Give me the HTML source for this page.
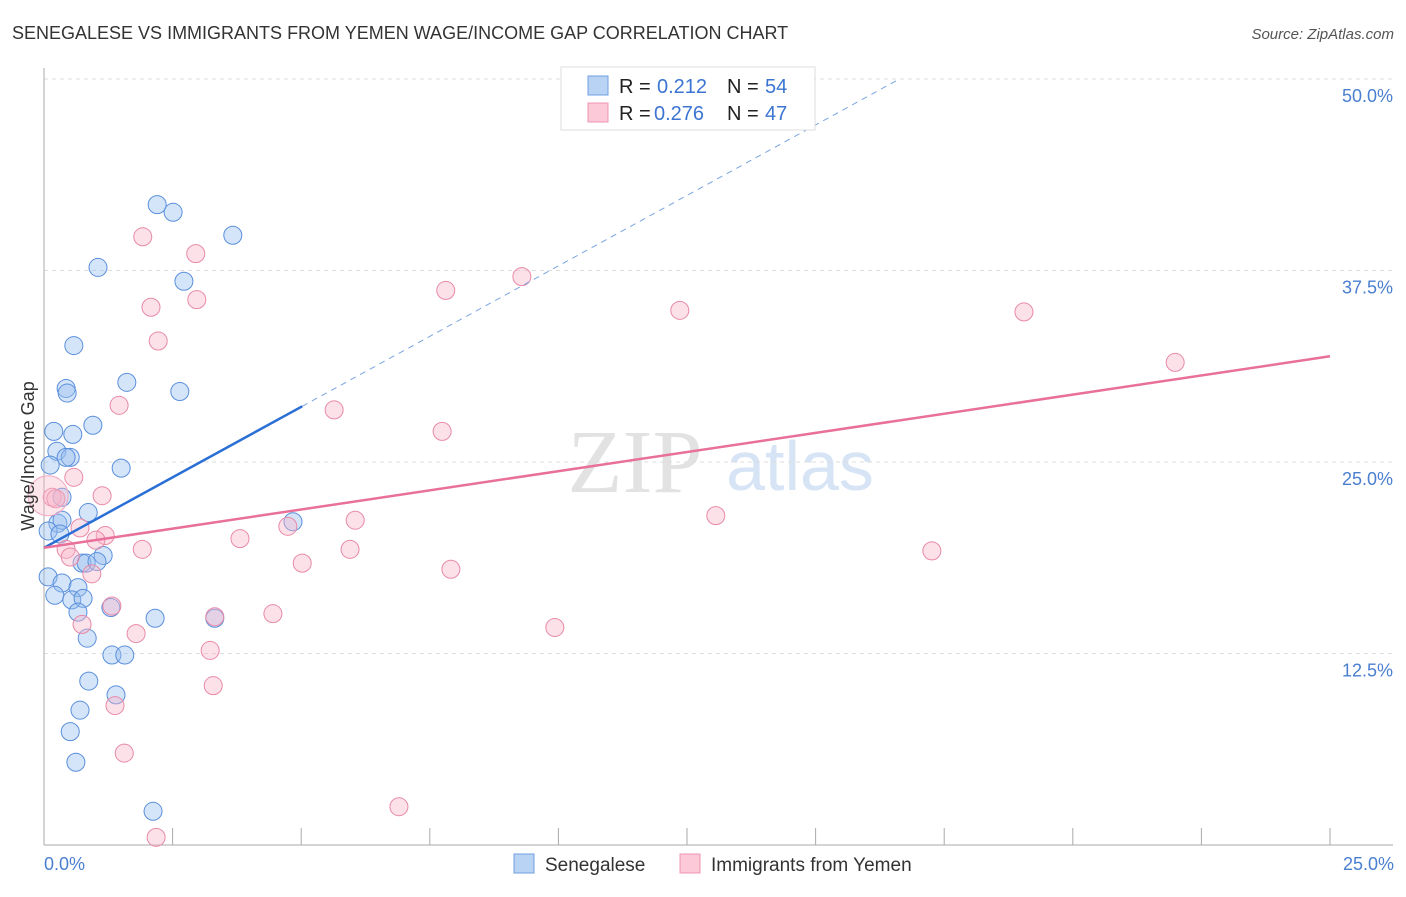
<!DOCTYPE html>
<html><head><meta charset="utf-8"><style>
body{margin:0;background:#fff;font-family:"Liberation Sans",sans-serif}
</style></head><body>
<svg id="c" width="1406" height="892" xmlns="http://www.w3.org/2000/svg">
<text x="12" y="39" font-size="18" fill="#333">SENEGALESE VS IMMIGRANTS FROM YEMEN WAGE/INCOME GAP CORRELATION CHART</text>
<text x="1394" y="39" font-size="15" fill="#555" font-style="italic" text-anchor="end">Source: ZipAtlas.com</text>
<text x="635" y="492" font-size="90" fill="#e2e2e2" font-family="Liberation Serif" text-anchor="middle">ZIP</text>
<text x="800" y="490" font-size="70" fill="#d6e4f5" text-anchor="middle">atlas</text>
<g id="grid"></g><g id="pts"></g><g id="lines"></g>
<text transform="translate(34,456) rotate(-90)" font-size="18" fill="#333" text-anchor="middle">Wage/Income Gap</text>
<text x="44" y="870" font-size="18" fill="#4a7fd0">0.0%</text>
<text x="1394" y="870" font-size="18" fill="#4a7fd0" text-anchor="end">25.0%</text>
<g>
<rect x="561" y="67" width="254" height="63" fill="#fff" stroke="#ddd"/>
<rect x="588" y="76" width="20" height="19" fill="#b9d3f5" stroke="#6f9fe0"/>
<rect x="588" y="103" width="20" height="19" fill="#fcc9d8" stroke="#ee94b0"/>
<text x="619" y="93" font-size="20" fill="#222">R =</text>
<text x="657" y="93" font-size="20" fill="#3b74d1">0.212</text>
<text x="727" y="93" font-size="20" fill="#222">N =</text>
<text x="765" y="93" font-size="20" fill="#3b74d1">54</text>
<text x="619" y="120" font-size="20" fill="#222">R =</text>
<text x="654" y="120" font-size="20" fill="#3b74d1">0.276</text>
<text x="727" y="120" font-size="20" fill="#222">N =</text>
<text x="765" y="120" font-size="20" fill="#3b74d1">47</text>
</g>
<g>
<rect x="514" y="854" width="20" height="19" fill="#b9d3f5" stroke="#6f9fe0"/>
<text x="545" y="871" font-size="19" fill="#333">Senegalese</text>
<rect x="680" y="854" width="20" height="19" fill="#fcc9d8" stroke="#ee94b0"/>
<text x="711" y="871" font-size="19" fill="#333">Immigrants from Yemen</text>
</g>
</svg>
<script>
const yTicks=[12.5,25,37.5,50];
const xTicks=[0,2.5,5,7.5,10,12.5,15,17.5,20,22.5,25];
const blueX=[2.20,2.51,3.67,1.05,2.72,0.58,0.43,0.45,1.61,2.64,0.95,0.19,0.56,0.25,0.51,0.43,1.50,0.12,0.35,0.86,0.27,0.35,0.08,0.31,4.84,1.15,0.74,0.82,1.03,0.08,0.35,0.66,0.21,0.54,0.76,0.66,1.30,2.16,3.32,0.84,1.32,1.57,0.87,1.40,0.70,0.51,0.62,2.12];
const blueY=[41.8,41.3,39.8,37.7,36.8,32.6,29.8,29.5,30.2,29.6,27.4,27.0,26.8,25.7,25.3,25.3,24.6,24.8,22.7,21.7,21.0,21.2,20.5,20.3,21.1,18.9,18.4,18.4,18.5,17.5,17.1,16.8,16.3,16.0,16.1,15.2,15.5,14.8,14.8,13.5,12.4,12.4,10.7,9.8,8.8,7.4,5.4,2.2];
const pinkX=[1.92,2.95,2.08,2.97,2.22,7.81,9.29,12.36,19.05,21.99,1.46,5.64,7.74,0.58,1.13,0.16,0.23,0.70,4.74,6.05,13.06,1.19,1.01,3.81,1.91,5.95,17.26,0.43,0.51,5.02,7.91,0.93,1.32,3.32,4.45,0.74,1.79,9.93,3.23,3.29,1.38,1.56,6.90,2.18];
const pinkY=[39.7,38.6,35.1,35.6,32.9,36.2,37.1,34.9,34.8,31.5,28.7,28.4,27.0,24.0,22.8,22.7,22.6,20.7,20.8,21.2,21.5,20.2,19.9,20.0,19.3,19.3,19.2,19.3,18.8,18.4,18.0,17.7,15.6,14.9,15.1,14.4,13.8,14.2,12.7,10.4,9.1,6.0,2.5,0.5];
const blueTrend=[19.4,1.84];
const pinkTrend=[19.4,0.50];
const sx=v=>44+v*51.44, sy=v=>845-v*15.32;
const NS="http://www.w3.org/2000/svg";
function mk(p,t,a){const e=document.createElementNS(NS,t);for(const k in a)e.setAttribute(k,a[k]);p.appendChild(e);return e;}
const g=document.getElementById('grid');
yTicks.forEach(t=>{const l=mk(g,'line',{x1:44,x2:1393,y1:sy(t),y2:sy(t),stroke:'#ddd','stroke-dasharray':'4 4'});


const tx=mk(g,'text',{x:1393,y:sy(t)+23,'font-size':18,fill:'#4a7fd0','text-anchor':'end'});tx.textContent=t.toFixed(1)+'%';

});
const ax=mk(g,'line',{x1:44,x2:44,y1:68,y2:845,stroke:'#aaa'});


const bx=mk(g,'line',{x1:44,x2:1393,y1:845,y2:845,stroke:'#aaa'});


xTicks.forEach(t=>{const l=mk(g,'line',{x1:sx(t),x2:sx(t),y1:828,y2:845,stroke:'#aaa'});

});
const p=document.getElementById('pts');
blueX.forEach((x,i)=>{const c=mk(p,'circle',{cx:sx(x),cy:sy(blueY[i]),r:9,fill:'rgba(150,190,240,0.4)',stroke:'#5a8fdc','stroke-width':1});

});
pinkX.forEach((x,i)=>{const c=mk(p,'circle',{cx:sx(x),cy:sy(pinkY[i]),r:9,fill:'rgba(250,180,200,0.4)',stroke:'#e88aa8','stroke-width':1});

});
const big=mk(p,'circle',{cx:sx(0.08),cy:sy(22.8),r:20,fill:'rgba(250,180,200,0.35)',stroke:'#f0a8c0'});


const L=document.getElementById('lines');
const b1=mk(L,'line',{x1:sx(0),y1:sy(blueTrend[0]),x2:sx(5.02),y2:sy(blueTrend[0]+blueTrend[1]*5.02),stroke:'#2a6fd6','stroke-width':2.5});


const xe=(50-blueTrend[0])/blueTrend[1];
const b2=mk(L,'line',{x1:sx(5.02),y1:sy(blueTrend[0]+blueTrend[1]*5.02),x2:sx(xe),y2:sy(50),stroke:'#7aa5e0','stroke-width':1,'stroke-dasharray':'6 5'});


const p1=mk(L,'line',{x1:sx(0),y1:sy(pinkTrend[0]),x2:sx(25),y2:sy(pinkTrend[0]+pinkTrend[1]*25),stroke:'#e8709a','stroke-width':2.5});


</script>
</body></html>
